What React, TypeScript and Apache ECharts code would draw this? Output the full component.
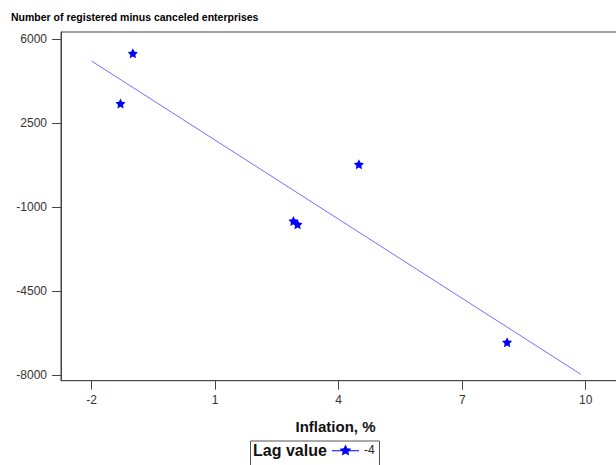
import React, { useEffect, useRef } from "react";
import * as echarts from "echarts";

const titleText = "Number of registered minus canceled enterprises";
const xAxisName = "Inflation, %";
const legendTitle = "Lag value";
const seriesName = "-4";

const inflation = [-1.0, -1.3, 4.49, 2.9, 3.0, 8.09];
const enterprises = [5404, 3313, 779, -1583, -1721, -6637];
const fitX = [-2, 9.88];
const fitY = [5080, -7970];
const xTicks = [-2, 1, 4, 7, 10];
const yTicks = [-8000, -4500, -1000, 2500, 6000];

function starPath(cx: number, cy: number, R: number, r: number): string {
  const pts: string[] = [];
  for (let i = 0; i < 10; i++) {
    const ang = (-90 + i * 36) * Math.PI / 180;
    const rad = i % 2 === 0 ? R : r;
    pts.push((cx + rad * Math.cos(ang)).toFixed(2) + " " + (cy + rad * Math.sin(ang)).toFixed(2));
  }
  return "M" + pts.join(" L") + " Z";
}

const FONT = "'Liberation Sans', Arial, sans-serif";

export default function App() {
  const ref = useRef<HTMLDivElement>(null);
  useEffect(() => {
    document.body.style.margin = "0";
    if (!ref.current) return;
    const chart = echarts.init(ref.current, null, { renderer: "svg" });
    const starSym = "path://" + starPath(50, 50, 50, 25);
    const legendIcon = "path://M0 5.6 H27 V6.6 H0 Z " + starPath(13.5, 6, 6.2, 3);
    chart.setOption({
      animation: false,
      backgroundColor: "#fff",
      textStyle: { fontFamily: FONT },
      title: {
        text: titleText,
        left: 11,
        top: 11,
        padding: 0,
        textStyle: { fontSize: 10.5, fontWeight: "bold", color: "#000", fontFamily: FONT },
      },
      grid: {
        left: 61,
        top: 32,
        width: 565,
        height: 348.7,
        containLabel: false,
        outerBoundsMode: "none",
        show: true,
        borderColor: "#444",
        borderWidth: 1,
        backgroundColor: "#fff",
      },
      legend: {
        data: [seriesName],
        left: 332,
        top: 444,
        padding: 0,
        itemWidth: 27,
        itemHeight: 12,
        icon: legendIcon,
        textStyle: { fontSize: 12, color: "#222", fontFamily: FONT },
      },
      graphic: [
        {
          type: "rect",
          shape: { x: 250.5, y: 441, width: 129, height: 40 },
          style: { fill: "none", stroke: "#555", lineWidth: 1 },
        },
        {
          type: "text",
          x: 253,
          y: 450,
          style: {
            text: legendTitle,
            fontSize: 16,
            fontWeight: "bold",
            fill: "#111",
            verticalAlign: "middle",
            fontFamily: FONT,
          },
        },
      ],
      xAxis: {
        type: "value",
        min: -2.745,
        max: 10.978,
        name: xAxisName,
        nameLocation: "middle",
        nameGap: 46,
        nameTextStyle: {
          fontSize: 15,
          fontWeight: "bold",
          color: "#111",
          verticalAlign: "middle",
          padding: [0, 16, 0, 0],
          fontFamily: FONT,
        },
        axisLine: { show: true, onZero: false, lineStyle: { color: "#444", width: 1 } },
        axisTick: { show: true, length: 9, customValues: xTicks, lineStyle: { color: "#444" } },
        axisLabel: {
          customValues: xTicks,
          fontSize: 12,
          color: "#333",
          margin: 13,
          fontFamily: FONT,
          formatter: (v: number) => String(v),
        },
        splitLine: { show: false },
      },
      yAxis: {
        type: "value",
        min: -8237,
        max: 6292,
        axisLine: { show: true, onZero: false, lineStyle: { color: "#444", width: 1 } },
        axisTick: { show: true, length: 9, customValues: yTicks, lineStyle: { color: "#444" } },
        axisLabel: {
          customValues: yTicks,
          fontSize: 12,
          color: "#333",
          margin: 14,
          fontFamily: FONT,
          formatter: (v: number) => String(v),
        },
        splitLine: { show: false },
      },
      series: [
        {
          name: "fit",
          type: "line",
          data: fitX.map((x, i) => [x, fitY[i]]),
          symbol: "none",
          lineStyle: { color: "#7070ff", width: 1 },
          z: 1,
        },
        {
          name: seriesName,
          type: "scatter",
          data: inflation.map((x, i) => [x, enterprises[i]]),
          symbol: starSym,
          symbolSize: 10,
          itemStyle: { color: "#0000ff", opacity: 1 },
          z: 2,
        },
      ],
    });
    return () => chart.dispose();
  }, []);
  return <div ref={ref} style={{ width: 616, height: 465 }} />;
}
